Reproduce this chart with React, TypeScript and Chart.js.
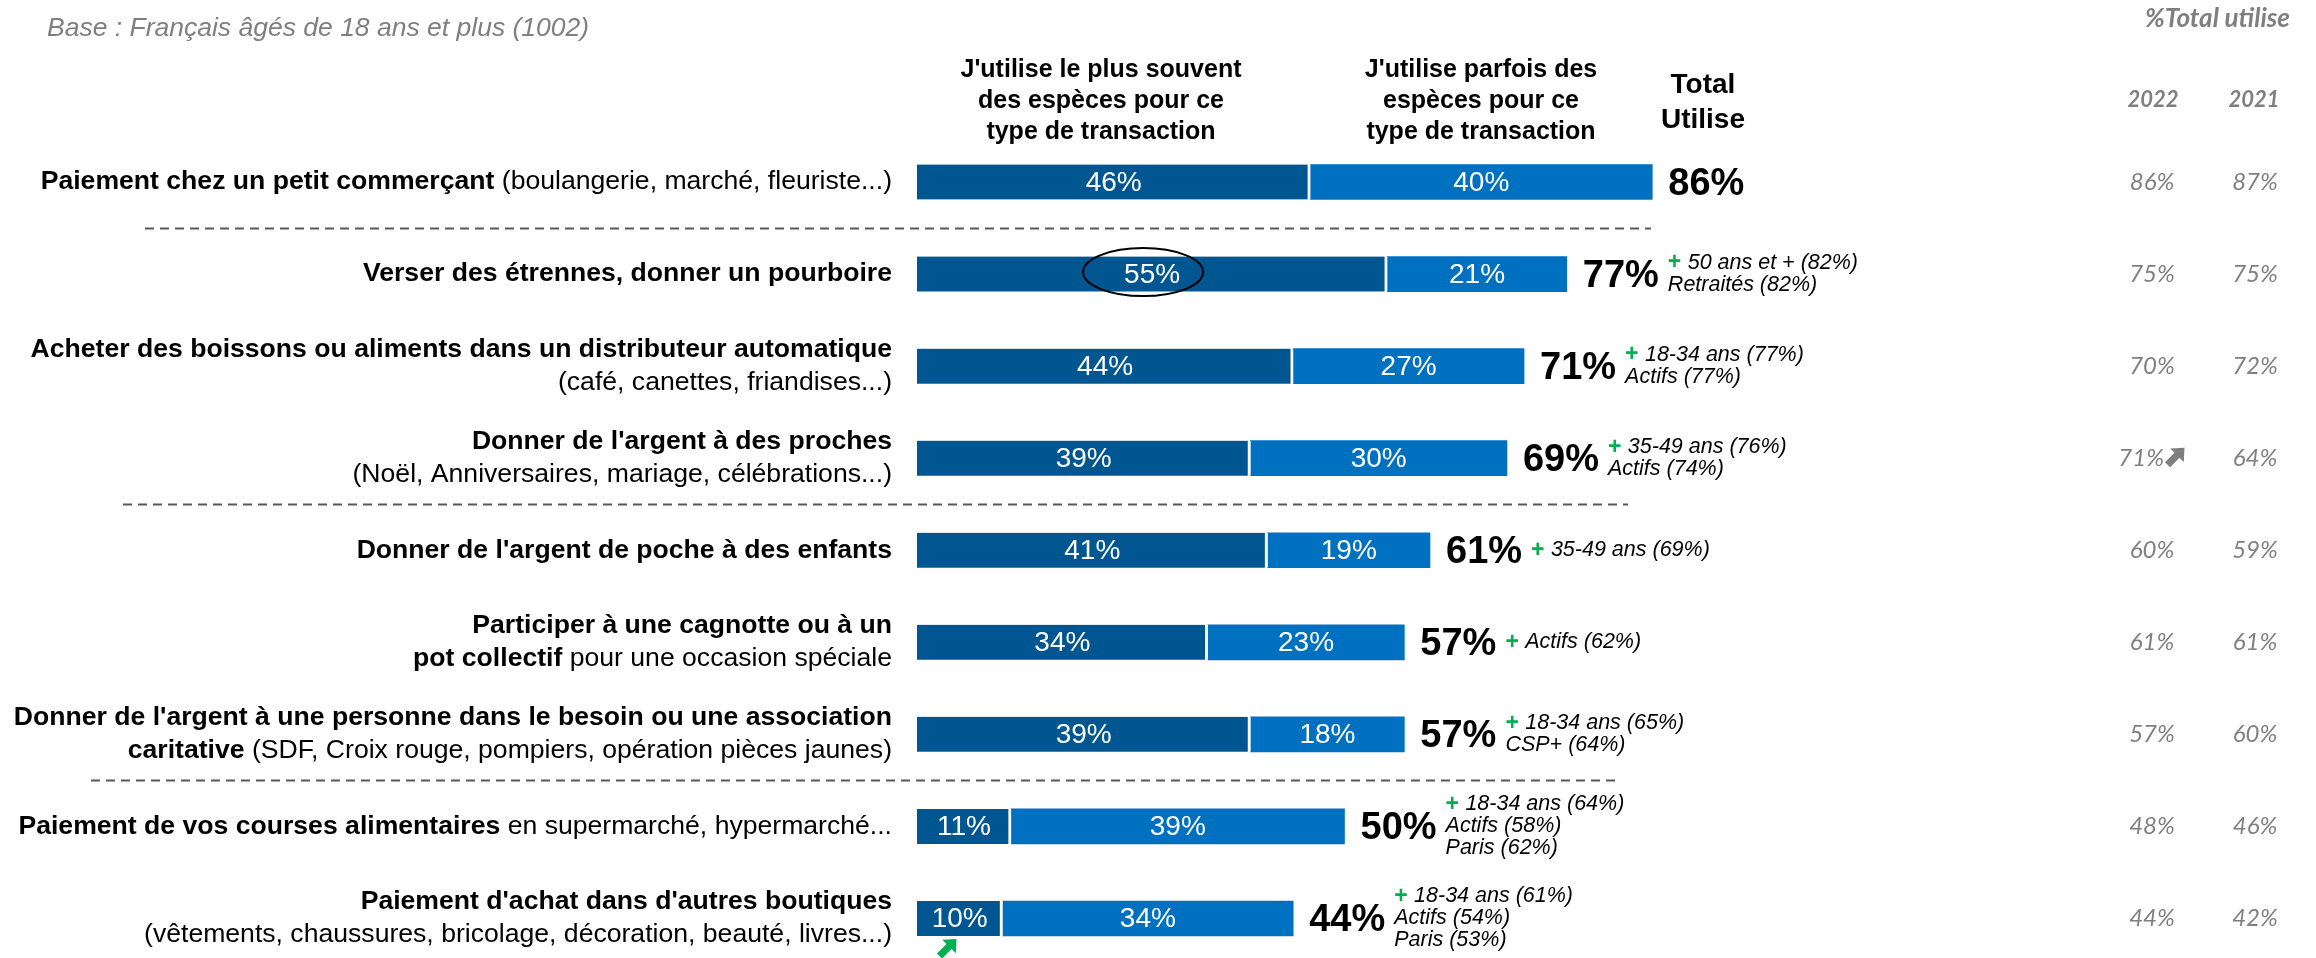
import React, { useEffect, useRef } from "react";
import { Chart, registerables } from "chart.js";

Chart.register(...registerables);

// ---------- DATA ----------
type Seg = [string, boolean];
const labelLines: Seg[][][] = [
  [[["Paiement chez un petit commerçant", true], [" (boulangerie, marché, fleuriste...)", false]]],
  [[["Verser des étrennes, donner un pourboire", true]]],
  [[["Acheter des boissons ou aliments dans un distributeur automatique", true]], [["(café, canettes, friandises...)", false]]],
  [[["Donner de l'argent à des proches", true]], [["(Noël, Anniversaires, mariage, célébrations...)", false]]],
  [[["Donner de l'argent de poche à des enfants", true]]],
  [[["Participer à une cagnotte ou à un", true]], [["pot collectif", true], [" pour une occasion spéciale", false]]],
  [[["Donner de l'argent à une personne dans le besoin ou une association", true]], [["caritative", true], [" (SDF, Croix rouge, pompiers, opération pièces jaunes)", false]]],
  [[["Paiement de vos courses alimentaires", true], [" en supermarché, hypermarché...", false]]],
  [[["Paiement d'achat dans d'autres boutiques", true]], [["(vêtements, chaussures, bricolage, décoration, beauté, livres...)", false]]],
];
const categories = labelLines.map((lines) => lines.map((l) => l.map((s) => s[0]).join("")).join(" "));

const mostOften = [46, 55, 44, 39, 41, 34, 39, 11, 10];
const sometimes = [40, 21, 27, 30, 19, 23, 18, 39, 34];
const totalUse = [86, 77, 71, 69, 61, 57, 57, 50, 44];
const total2022 = ["86%", "75%", "70%", "71%", "60%", "61%", "57%", "48%", "44%"];
const total2021 = ["87%", "75%", "72%", "64%", "59%", "61%", "60%", "46%", "42%"];
const trend2022 = [false, false, false, true, false, false, false, false, false];
const subgroupNotes: string[][] = [
  [],
  ["50 ans et + (82%)", "Retraités (82%)"],
  ["18-34 ans (77%)", "Actifs (77%)"],
  ["35-49 ans (76%)", "Actifs (74%)"],
  ["35-49 ans (69%)"],
  ["Actifs (62%)"],
  ["18-34 ans (65%)", "CSP+ (64%)"],
  ["18-34 ans (64%)", "Actifs (58%)", "Paris (62%)"],
  ["18-34 ans (61%)", "Actifs (54%)", "Paris (53%)"],
];
const seriesNames = [
  "J'utilise le plus souvent des espèces pour ce type de transaction",
  "J'utilise parfois des espèces pour ce type de transaction",
];
const headerMost = ["J'utilise le plus souvent", "des espèces pour ce", "type de transaction"];
const headerSome = ["J'utilise parfois des", "espèces pour ce", "type de transaction"];
const headerTotal = ["Total", "Utilise"];
const baseText = "Base : Français âgés de 18 ans et plus (1002)";
const rightTitle = "%Total utilise";
const yearLabels = ["2022", "2021"];
const separatorsAfter = [0, 3, 6];
const highlightedRow = 1;
const upArrowRow = 8;

// ---------- STYLE ----------
const SANS = '"Liberation Sans", Arial, sans-serif';
const RIGHTF = 'Lato, "Open Sans", sans-serif';
const DARK = "#005691";
const LIGHT = "#0070C0";
const GREY = "#7f7f7f";
const GREEN = "#00B050";
const W = 2316;
const H = 1000;
const LABEL_PX = 26.6;

function drawArrow(ctx: CanvasRenderingContext2D, cx: number, cy: number, s: number, color: string) {
  ctx.save();
  ctx.translate(cx, cy);
  ctx.rotate(-Math.PI / 4);
  ctx.fillStyle = color;
  ctx.beginPath();
  ctx.moveTo(-s / 2, -s * 0.15);
  ctx.lineTo(s * 0.06, -s * 0.15);
  ctx.lineTo(s * 0.06, -s * 0.4);
  ctx.lineTo(s / 2, 0);
  ctx.lineTo(s * 0.06, s * 0.4);
  ctx.lineTo(s * 0.06, s * 0.15);
  ctx.lineTo(-s / 2, s * 0.15);
  ctx.closePath();
  ctx.fill();
  ctx.restore();
}

const overlay = {
  id: "overlay",
  afterDatasetsDraw(chart: any) {
    const ctx: CanvasRenderingContext2D = chart.ctx;
    const ys = chart.scales.y;
    const m0 = chart.getDatasetMeta(0);
    const m1 = chart.getDatasetMeta(1);
    ctx.save();

    // top-left base text
    ctx.font = `italic 26.5px ${SANS}`;
    ctx.fillStyle = GREY;
    ctx.textAlign = "left";
    ctx.textBaseline = "middle";
    ctx.fillText(baseText, 47, 29);

    // column headers
    ctx.fillStyle = "#000";
    ctx.textAlign = "center";
    ctx.font = `bold 25px ${SANS}`;
    headerMost.forEach((t, k) => ctx.fillText(t, 1101, 70 + k * 31));
    headerSome.forEach((t, k) => ctx.fillText(t, 1481, 70 + k * 31));
    ctx.font = `bold 28px ${SANS}`;
    headerTotal.forEach((t, k) => ctx.fillText(t, 1703, 85 + k * 35));

    // right columns headers
    ctx.fillStyle = GREY;
    ctx.font = `italic bold 26px ${RIGHTF}`;
    ctx.textAlign = "right";
    ctx.fillText(rightTitle, 2290, 19);
    ctx.textAlign = "center";
    ctx.font = `italic bold 22px ${RIGHTF}`;
    ctx.fillText(yearLabels[0], 2153, 100);
    ctx.fillText(yearLabels[1], 2254, 100);

    // separators
    ctx.strokeStyle = "#595959";
    ctx.lineWidth = 2;
    ctx.setLineDash([9, 6]);
    const sepX = [
      [145, 1651],
      [123, 1628],
      [91, 1619],
    ];
    separatorsAfter.forEach((r, k) => {
      const yy = Math.round((ys.getPixelForValue(r) + ys.getPixelForValue(r + 1)) / 2) + 0.5;
      ctx.beginPath();
      ctx.moveTo(sepX[k][0], yy);
      ctx.lineTo(sepX[k][1], yy);
      ctx.stroke();
    });
    ctx.setLineDash([]);

    categories.forEach((_, i) => {
      const el0 = m0.data[i];
      const el1 = m1.data[i];
      const cy = el0.y;

      // segment labels
      ctx.fillStyle = "#fff";
      ctx.textAlign = "center";
      ctx.textBaseline = "middle";
      ctx.font = `28px ${SANS}`;
      ctx.fillText(`${mostOften[i]}%`, (el0.x + el0.base) / 2, cy + 1);
      ctx.fillText(`${sometimes[i]}%`, (el1.x + el1.base) / 2, cy + 1);

      // category labels
      const lines = labelLines[i];
      const lh = 33;
      lines.forEach((segs, k) => {
        const ly = cy + (k - (lines.length - 1) / 2) * lh;
        let total = 0;
        segs.forEach(([t, b]) => {
          ctx.font = `${b ? "bold " : ""}${LABEL_PX}px ${SANS}`;
          total += ctx.measureText(t).width;
        });
        let x = 892 - total;
        ctx.fillStyle = "#000";
        ctx.textAlign = "left";
        segs.forEach(([t, b]) => {
          ctx.font = `${b ? "bold " : ""}${LABEL_PX}px ${SANS}`;
          ctx.fillText(t, x, ly);
          x += ctx.measureText(t).width;
        });
      });

      // total
      ctx.font = `bold 38px ${SANS}`;
      ctx.fillStyle = "#000";
      ctx.textAlign = "left";
      const tTxt = `${totalUse[i]}%`;
      const tx = el1.x + 16;
      ctx.fillText(tTxt, tx, cy + 2);
      const nx = tx + ctx.measureText(tTxt).width + 9;

      // notes
      const notes = subgroupNotes[i];
      notes.forEach((n, k) => {
        const ny = cy + (k - (notes.length - 1) / 2) * 22;
        let x = nx;
        if (k === 0) {
          ctx.font = `bold 23px ${SANS}`;
          ctx.fillStyle = GREEN;
          ctx.fillText("+", x, ny);
          x += ctx.measureText("+ ").width;
        }
        ctx.font = `italic 21.5px ${SANS}`;
        ctx.fillStyle = "#000";
        ctx.fillText(n, x, ny);
      });

      // right columns
      ctx.font = `italic 24px ${RIGHTF}`;
      ctx.fillStyle = GREY;
      ctx.textAlign = "center";
      if (trend2022[i]) {
        ctx.textAlign = "right";
        ctx.fillText(total2022[i], 2164, cy);
        drawArrow(ctx, 2176, cy - 2, 24, GREY);
        ctx.textAlign = "center";
      } else {
        ctx.fillText(total2022[i], 2152, cy);
      }
      ctx.fillText(total2021[i], 2255, cy);
    });

    // ellipse highlight
    const eh = m0.data[highlightedRow];
    ctx.strokeStyle = "#000";
    ctx.lineWidth = 2;
    ctx.beginPath();
    ctx.ellipse((eh.x + eh.base) / 2 - 9, eh.y - 2, 60, 24, 0, 0, Math.PI * 2);
    ctx.stroke();

    // green arrow under last bar
    const ea = m0.data[upArrowRow];
    drawArrow(ctx, ea.base + 31, ea.y + 29, 24, GREEN);

    ctx.restore();
  },
};

export default function App() {
  const ref = useRef<HTMLCanvasElement | null>(null);
  useEffect(() => {
    if (!ref.current) return;
    const chart = new Chart(ref.current, {
      type: "bar",
      data: {
        labels: categories,
        datasets: [
          {
            label: seriesNames[0],
            data: mostOften,
            backgroundColor: DARK,
            borderColor: "#ffffff",
            borderWidth: { top: 0, bottom: 0, left: 0, right: 3 },
            borderSkipped: false,
            barThickness: 35,
          },
          {
            label: seriesNames[1],
            data: sometimes,
            backgroundColor: LIGHT,
            borderWidth: 0,
            barThickness: 35,
          },
        ],
      },
      options: {
        indexAxis: "y",
        responsive: false,
        animation: false,
        devicePixelRatio: 1,
        layout: { padding: { left: 917, right: W - 1772, top: 136, bottom: H - 964.5 } },
        scales: {
          x: { stacked: true, min: 0, max: 100, display: false },
          y: { stacked: true, display: false },
        },
        plugins: { legend: { display: false }, tooltip: { enabled: false } },
      },
      plugins: [overlay],
    } as any);
    return () => chart.destroy();
  }, []);

  return (
    <div style={{ position: "absolute", left: 0, top: 0, width: W, height: 958, overflow: "hidden", background: "#fff" }}>
      <canvas ref={ref} width={W} height={H} style={{ display: "block", width: W, height: H }} />
    </div>
  );
}
